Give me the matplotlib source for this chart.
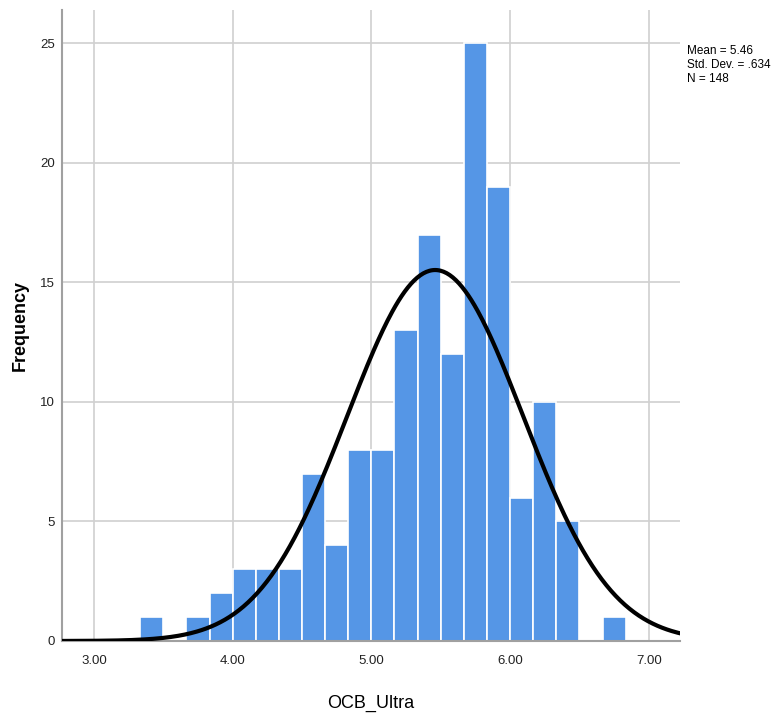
import numpy as np
import matplotlib
matplotlib.use('Agg')
import matplotlib.pyplot as plt

plt.rcParams['font.family'] = ['Liberation Sans', 'DejaVu Sans']

# histogram bins (width 1/6) and counts
bin_edges = [10/3 + i/6 for i in range(22)]
counts = [1, 0, 1, 2, 3, 3, 3, 7, 4, 8, 8, 13, 17, 12, 25, 19, 6, 10, 5, 0, 1]
mean = 5.46
std_dev = 0.634
n = 148
x_ticks = [3, 4, 5, 6, 7]
x_tick_labels = ['3.00', '4.00', '5.00', '6.00', '7.00']
y_ticks = [0, 5, 10, 15, 20, 25]

fig = plt.figure(figsize=(7.73, 7.15), dpi=100)
ax = fig.add_axes([0.0802, 0.1035, 0.7995, 0.8825])

lefts = np.array(bin_edges[:-1])
widths = np.diff(bin_edges)
ax.bar(lefts, counts, width=widths, align='edge', color='#5596e6',
       edgecolor='white', linewidth=1.2, zorder=2)

# normal curve scaled to counts
xs = np.linspace(2.77, 7.23, 400)
ys = n * widths[0] * np.exp(-0.5 * ((xs - mean) / std_dev) ** 2) / (std_dev * np.sqrt(2 * np.pi))
ax.plot(xs, ys, color='black', linewidth=3, zorder=3, solid_capstyle='round')

ax.set_xlim(2.77, 7.225)
ax.set_ylim(0, 26.4)
ax.set_xticks(x_ticks)
ax.set_xticklabels(x_tick_labels)
ax.set_yticks(y_ticks)
ax.grid(True, color='#d0d0d0', linewidth=1.2, zorder=0)
ax.set_axisbelow(True)
ax.tick_params(length=0, labelsize=9.5, colors='#222222')
ax.tick_params(axis='x', pad=10)
ax.tick_params(axis='y', pad=5)

for s in ['top', 'right']:
    ax.spines[s].set_visible(False)
for s in ['left', 'bottom']:
    ax.spines[s].set_color('#a0a0a0')
    ax.spines[s].set_linewidth(1.5)

ax.set_xlabel('OCB_Ultra', fontsize=13, labelpad=20)
fig.text(20 / 773, 1 - 325 / 715, 'Frequency', fontsize=13, fontweight='bold',
         rotation=90, ha='center', va='center')

fig.text(0.889, 0.909, 'Mean = %.2f\nStd. Dev. = .634\nN = %d' % (mean, n),
         fontsize=8.5, va='center', ha='left', linespacing=1.2)

fig.savefig('out.png', dpi=100)
